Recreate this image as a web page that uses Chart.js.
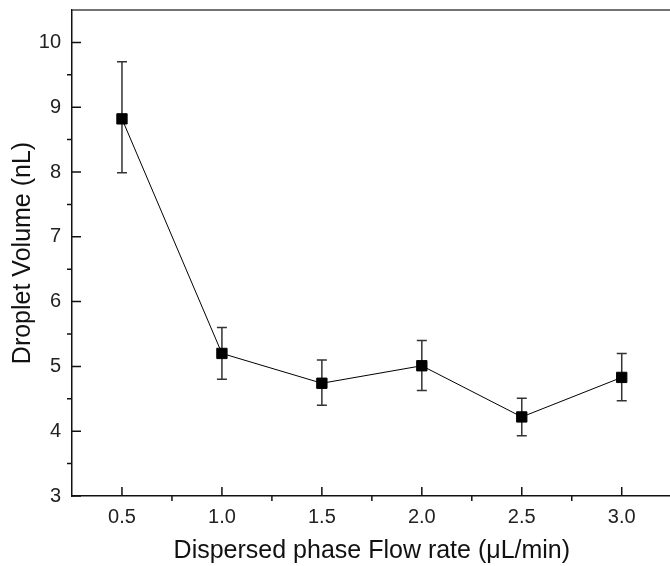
<!DOCTYPE html>
<html>
<head>
<meta charset="utf-8">
<script src="https://cdn.jsdelivr.net/npm/chart.js@4/dist/chart.umd.min.js"></script>
<style>
	html, body { margin: 0; padding: 0; background: #fff; overflow: hidden; }
	#wrap { width: 680px; height: 566px; position: relative; }
</style>
</head>
<body>
<div id="wrap"><canvas id="grafik_volume"></canvas></div>
<script>
	var flowRate = [0.5, 1.0, 1.5, 2.0, 2.5, 3.0];
	var volume = [8.82, 5.20, 4.74, 5.01, 4.22, 4.83];
	var errLow = [7.99, 4.80, 4.40, 4.63, 3.93, 4.47];
	var errHigh = [9.70, 5.60, 5.10, 5.40, 4.51, 5.20];
	var xTicks = [0.5, 1.0, 1.5, 2.0, 2.5, 3.0];
	var yTicks = [3, 4, 5, 6, 7, 8, 9, 10];

	var points = [];
	for (var i in flowRate) {
		points.push({ x: flowRate[i], y: volume[i] });
	}

	function midpoints(arr) {
		var out = [];
		for (var i = 0; i < arr.length - 1; i++) {
			out.push((arr[i] + arr[i + 1]) / 2);
		}
		return out;
	}

	// error bars, inward major ticks, outward minor ticks, top frame line
	var framePlugin = {
		id: 'frame',
		beforeDatasetsDraw: function (chart) {
			var ctx = chart.ctx;
			var xs = chart.scales.x;
			var ys = chart.scales.y;
			ctx.save();
			ctx.strokeStyle = '#333';
			ctx.lineWidth = 1.5;
			for (var i = 0; i < flowRate.length; i++) {
				var px = xs.getPixelForValue(flowRate[i]);
				var lo = ys.getPixelForValue(errLow[i]);
				var hi = ys.getPixelForValue(errHigh[i]);
				ctx.beginPath();
				ctx.moveTo(px, lo); ctx.lineTo(px, hi);
				ctx.moveTo(px - 5, lo); ctx.lineTo(px + 5, lo);
				ctx.moveTo(px - 5, hi); ctx.lineTo(px + 5, hi);
				ctx.stroke();
			}
			ctx.restore();
		},
		afterDraw: function (chart) {
			var ctx = chart.ctx;
			var area = chart.chartArea;
			var xs = chart.scales.x;
			var ys = chart.scales.y;
			ctx.save();
			ctx.strokeStyle = '#111';
			ctx.lineWidth = 1.5;
			ctx.beginPath();
			yTicks.forEach(function (v) {
				var py = ys.getPixelForValue(v);
				ctx.moveTo(area.left, py); ctx.lineTo(area.left + 9, py);
			});
			midpoints(yTicks).forEach(function (v) {
				var py = ys.getPixelForValue(v);
				ctx.moveTo(area.left, py); ctx.lineTo(area.left - 5, py);
			});
			xTicks.forEach(function (v) {
				var px = xs.getPixelForValue(v);
				ctx.moveTo(px, area.bottom); ctx.lineTo(px, area.bottom - 9);
			});
			midpoints(xTicks).forEach(function (v) {
				var px = xs.getPixelForValue(v);
				ctx.moveTo(px, area.bottom); ctx.lineTo(px, area.bottom + 5);
			});
			ctx.stroke();
			ctx.strokeStyle = '#444';
			ctx.beginPath();
			ctx.moveTo(area.left, area.top);
			ctx.lineTo(area.right, area.top);
			ctx.stroke();
			ctx.restore();
		}
	};

	var ctx = document.getElementById('grafik_volume');

	var volumeGraph = new Chart(ctx, {
		type: 'scatter',
		data: {
			datasets: [
				{
					label: 'Droplet Volume',
					data: points,
					showLine: true,
					borderColor: '#000',
					borderWidth: 1,
					backgroundColor: '#000',
					pointStyle: 'rect',
					pointRadius: 7.3,
					pointBorderWidth: 1,
					pointBorderColor: '#000',
					pointBackgroundColor: '#000'
				}
			]
		},
		options: {
			responsive: true,
			maintainAspectRatio: false,
			animation: false,
			layout: { padding: { top: 10, left: 0, right: 6, bottom: 0 } },
			plugins: {
				legend: { display: false },
				tooltip: { enabled: false }
			},
			scales: {
				x: {
					type: 'linear',
					min: 0.25,
					max: 3.25,
					afterBuildTicks: function (scale) {
						scale.ticks = xTicks.map(function (v) { return { value: v }; });
					},
					afterFit: function (scale) {
						scale.height = 70;
						scale.paddingLeft = 0;
						scale.paddingRight = 0;
					},
					grid: { display: false, drawTicks: false },
					border: { display: true, color: '#111', width: 1.5 },
					ticks: {
						padding: 9,
						color: '#222',
						font: { family: 'Liberation Sans, Arial', size: 20 },
						callback: function (v) { return v.toFixed(1); }
					},
					title: {
						display: true,
						text: 'Dispersed phase Flow rate (μL/min)',
						color: '#111',
						font: { family: 'Liberation Sans, Arial', size: 25 },
						padding: { top: 0, bottom: 0 }
					}
				},
				y: {
					min: 3,
					max: 10.5,
					afterBuildTicks: function (scale) {
						scale.ticks = yTicks.map(function (v) { return { value: v }; });
					},
					afterFit: function (scale) {
						scale.width = 72;
						scale.paddingTop = 0;
						scale.paddingBottom = 0;
					},
					grid: { display: false, drawTicks: false },
					border: { display: true, color: '#111', width: 1.5 },
					ticks: {
						padding: 11,
						color: '#222',
						font: { family: 'Liberation Sans, Arial', size: 20 },
						callback: function (v) { return v; }
					},
					title: {
						display: true,
						text: 'Droplet Volume (nL)',
						color: '#111',
						font: { family: 'Liberation Sans, Arial', size: 25 },
						padding: { top: 8, bottom: 0 }
					}
				}
			}
		},
		plugins: [framePlugin]
	});
</script>
</body>
</html>
